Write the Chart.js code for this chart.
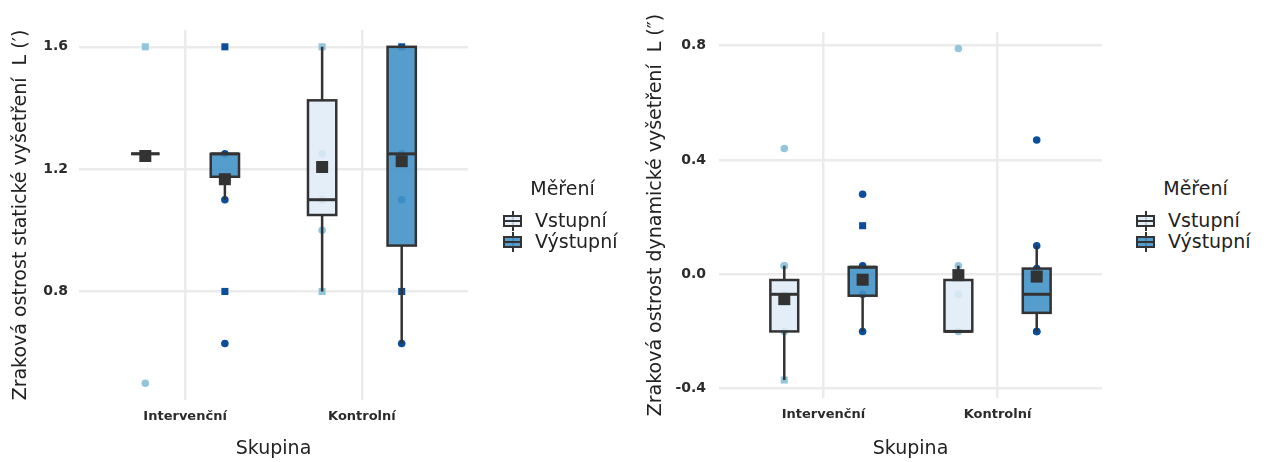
<!DOCTYPE html>
<html lang="cs">
<head>
<meta charset="utf-8">
<script src="https://cdn.jsdelivr.net/npm/chart.js@4.4.1/dist/chart.umd.min.js"></script>
<style>
  html, body { margin: 0; padding: 0; background: #fff; }
  body { width: 1269px; height: 462px; position: relative; overflow: hidden; font-family: "DejaVu Sans", sans-serif; }
  canvas { position: absolute; top: 0; }
  #staticChart { left: 0; }
  #dynamicChart { left: 620px; }
  .legend { position: absolute; top: 177px; width: 125px; color: #222; font-size: 19px; }
  .legend .title { text-align: center; line-height: 22px; height: 22px; margin-bottom: 11px; }
  .legend .row { position: relative; height: 21px; line-height: 21px; padding-left: 35px; }
  .key { position: absolute; left: 3px; top: 0.5px; width: 19px; height: 20px; }
  .key .wh { position: absolute; left: 8.5px; top: 0; width: 2px; height: 20px; background: #333; }
  .key .bx { position: absolute; left: 0; top: 4px; width: 19px; height: 12px; box-sizing: border-box; border: 2px solid #333; }
  .key .md { position: absolute; left: 0; top: 9px; width: 19px; height: 2px; background: #333; }
</style>
</head>
<body>
<canvas id="staticChart" width="490" height="462"></canvas>
<canvas id="dynamicChart" width="500" height="462"></canvas>
<div class="legend" id="legendStatic" style="left:500px"></div>
<div class="legend" id="legendDynamic" style="left:1133px"></div>
<script>
// ==========================
// DATA
// ==========================
const groups = ["Intervenční", "Kontrolní"];
const measures = ["Vstupní", "Výstupní"];

// box order: Intervenční-Vstupní, Intervenční-Výstupní, Kontrolní-Vstupní, Kontrolní-Výstupní
const staticLow = [1.25, 1.1, 0.8, 0.63];
const staticQ1 = [1.25, 1.175, 1.05, 0.95];
const staticMedian = [1.25, 1.25, 1.1, 1.25];
const staticQ3 = [1.25, 1.25, 1.425, 1.6];
const staticHigh = [1.25, 1.25, 1.6, 1.6];
const staticMean = [1.243, 1.167, 1.207, 1.226];
const staticPoints = [
  [1.6, 1.25, 1.25, 0.5],
  [1.6, 1.25, 1.1, 0.8, 0.63],
  [1.6, 1.25, 1.1, 1.0, 0.8],
  [1.6, 1.25, 1.1, 0.8, 0.63],
];
const staticShapes = [
  ["rect", "circle", "circle", "circle"],
  ["rect", "circle", "circle", "rect", "circle"],
  ["rect", "circle", "circle", "circle", "rect"],
  ["rect", "circle", "circle", "rect", "circle"],
];
const staticTicks = [0.8, 1.2, 1.6];

const dynLow = [-0.37, -0.2, -0.2, -0.2];
const dynQ1 = [-0.2, -0.075, -0.2, -0.135];
const dynMedian = [-0.07, 0.025, -0.2, -0.07];
const dynQ3 = [-0.02, 0.025, -0.02, 0.02];
const dynHigh = [0.03, 0.025, 0.03, 0.1];
const dynMean = [-0.087, -0.019, -0.003, -0.008];
const dynPoints = [
  [0.44, 0.03, 0.03, -0.07, -0.2, -0.37],
  [0.28, 0.17, 0.03, -0.07, -0.2],
  [0.79, 0.03, -0.07, -0.2],
  [0.47, 0.1, 0.02, -0.2, -0.2],
];
const dynShapes = [
  ["circle", "circle", "circle", "circle", "circle", "rect"],
  ["circle", "rect", "circle", "circle", "circle"],
  ["circle", "circle", "circle", "circle"],
  ["circle", "circle", "circle", "circle", "circle"],
];
const dynTicks = [-0.4, 0.0, 0.4, 0.8];

// ==========================
// STYLE
// ==========================
const FONT = "'DejaVu Sans', sans-serif";
const DODGE = [-0.225, 0.225];
const BOX_W = 0.16;
const BOX_FILL = ["rgba(222,235,247,0.85)", "rgba(66,146,198,0.9)"];
const POINT_COLOR = ["#92c5de", "#0b4f9c"];
const LINE = "#333333";
const GRID = "#ebebeb";

/* =======================================================
   PLUGIN BOXPLOT - boîtes dessinées via les échelles
======================================================= */
const boxPlugin = {
  id: "boxes",
  beforeDatasetDraw(chart, args) {
    if (args.index !== 0) return;
    const boxes = chart.options.plugins.boxes.items;
    const xs = chart.scales.x;
    const ys = chart.scales.y;
    const ctx = chart.ctx;
    ctx.save();
    ctx.strokeStyle = LINE;
    ctx.lineWidth = 2.5;
    boxes.forEach((b) => {
      const xc = xs.getPixelForValue(b.x);
      const x0 = xs.getPixelForValue(b.x - BOX_W / 2);
      const x1 = xs.getPixelForValue(b.x + BOX_W / 2);
      const yLow = ys.getPixelForValue(b.low);
      const yQ1 = ys.getPixelForValue(b.q1);
      const yMed = ys.getPixelForValue(b.median);
      const yQ3 = ys.getPixelForValue(b.q3);
      const yHigh = ys.getPixelForValue(b.high);

      // moustaches
      ctx.beginPath();
      ctx.moveTo(xc, yLow);
      ctx.lineTo(xc, yQ1);
      ctx.moveTo(xc, yQ3);
      ctx.lineTo(xc, yHigh);
      ctx.stroke();

      // boîte
      ctx.fillStyle = BOX_FILL[b.m];
      ctx.fillRect(x0, yQ3, x1 - x0, yQ1 - yQ3);
      ctx.strokeRect(x0, yQ3, x1 - x0, yQ1 - yQ3);

      // médiane
      ctx.lineWidth = 3;
      ctx.beginPath();
      ctx.moveTo(x0, yMed);
      ctx.lineTo(x1, yMed);
      ctx.stroke();
      ctx.lineWidth = 2.5;
    });
    ctx.restore();
  },
};

function buildBoxes(s) {
  const items = [];
  groups.forEach((g, gi) => {
    measures.forEach((m, mi) => {
      const i = gi * measures.length + mi;
      items.push({
        x: gi + 1 + DODGE[mi],
        m: mi,
        low: s.low[i],
        q1: s.q1[i],
        median: s.median[i],
        q3: s.q3[i],
        high: s.high[i],
        mean: s.mean[i],
        points: s.points[i],
        shapes: s.shapes[i],
      });
    });
  });
  return items;
}

function pointDataset(items, mi) {
  const data = [];
  const styles = [];
  items
    .filter((b) => b.m === mi)
    .forEach((b) => {
      b.points.forEach((v, k) => {
        data.push({ x: b.x, y: v });
        styles.push(b.shapes[k]);
      });
    });
  return {
    label: measures[mi],
    data,
    pointStyle: styles,
    pointRadius: styles.map((s) => (s === "rect" ? 5 : 3.8)),
    backgroundColor: POINT_COLOR[mi],
    borderWidth: 0,
  };
}

function makeChart(canvasId, s) {
  const items = buildBoxes(s);
  const ctx = document.getElementById(canvasId).getContext("2d");
  return new Chart(ctx, {
    type: "scatter",
    data: {
      datasets: [
        {
          label: "Průměr",
          data: items.map((b) => ({ x: b.x, y: b.mean })),
          pointStyle: "rect",
          pointRadius: 8.5,
          backgroundColor: LINE,
          borderWidth: 0,
        },
        pointDataset(items, 1),
        pointDataset(items, 0),
      ],
    },
    options: {
      responsive: false,
      animation: false,
      devicePixelRatio: 1,
      layout: { padding: s.padding },
      plugins: {
        legend: { display: false },
        tooltip: { enabled: false },
        boxes: { items },
      },
      scales: {
        x: {
          type: "linear",
          min: 0.4,
          max: 2.6,
          afterBuildTicks: (axis) => {
            axis.ticks = groups.map((g, i) => ({ value: i + 1 }));
          },
          afterFit: (axis) => {
            axis.height = s.xHeight;
          },
          ticks: {
            callback: (v) => groups[Math.round(v) - 1],
            font: { family: FONT, size: 13, weight: "bold" },
            color: "#2b2b2b",
            padding: 9,
            maxRotation: 0,
            autoSkip: false,
          },
          grid: { color: GRID, lineWidth: 2.5, drawTicks: false },
          border: { display: false },
          title: {
            display: true,
            text: "Skupina",
            font: { family: FONT, size: 19 },
            color: "#222",
            padding: { top: 0, bottom: 2 },
          },
        },
        y: {
          min: s.yMin,
          max: s.yMax,
          afterBuildTicks: (axis) => {
            axis.ticks = s.ticks.map((v) => ({ value: v }));
          },
          afterFit: (axis) => {
            axis.width = s.yWidth;
          },
          ticks: {
            callback: (v) => v.toFixed(1),
            font: { family: FONT, size: 14, weight: "bold" },
            color: "#2b2b2b",
            padding: s.tickPad,
          },
          grid: { color: GRID, lineWidth: 2.5, drawTicks: false },
          border: { display: false },
          title: {
            display: true,
            text: s.title,
            font: { family: FONT, size: 19 },
            color: "#222",
            padding: { top: s.titlePad, bottom: 0 },
          },
        },
      },
    },
    plugins: [boxPlugin],
  });
}

/* =======================================================
   LÉGENDE HTML
======================================================= */
function buildLegend(id) {
  const el = document.getElementById(id);
  let html = '<div class="title">Měření</div>';
  measures.forEach((m, i) => {
    html +=
      '<div class="row"><div class="key"><div class="wh"></div>' +
      '<div class="bx" style="background:' + BOX_FILL[i] + '"></div>' +
      '<div class="md"></div></div>' + m + "</div>";
  });
  el.innerHTML = html;
}

// ==========================
// INIT
// ==========================
makeChart("staticChart", {
  low: staticLow, q1: staticQ1, median: staticMedian, q3: staticQ3, high: staticHigh,
  mean: staticMean, points: staticPoints, shapes: staticShapes, ticks: staticTicks,
  yMin: 0.445, yMax: 1.655,
  title: "Zraková ostrost statické vyšetření  L (′)",
  padding: { top: 30, right: 22, left: 0, bottom: 0 },
  xHeight: 62, yWidth: 79, tickPad: 11, titlePad: 10,
});

makeChart("dynamicChart", {
  low: dynLow, q1: dynQ1, median: dynMedian, q3: dynQ3, high: dynHigh,
  mean: dynMean, points: dynPoints, shapes: dynShapes, ticks: dynTicks,
  yMin: -0.433, yMax: 0.848,
  title: "Zraková ostrost dynamické vyšetření  L (″)",
  padding: { top: 32, right: 18, left: 0, bottom: 0 },
  xHeight: 64, yWidth: 99, tickPad: 13, titlePad: 25,
});

buildLegend("legendStatic");
buildLegend("legendDynamic");
</script>
</body>
</html>
